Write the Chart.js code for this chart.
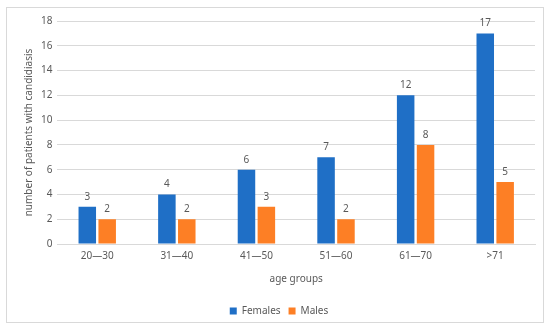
<!DOCTYPE html>
<html lang="en">
<head>
  <meta charset="UTF-8" />
  <title>Candidiasis by age group</title>
  <script src="https://cdn.jsdelivr.net/npm/chart.js"></script>
  <style>
    body { margin: 0; background: #fff; }
    .frame {
      position: absolute; left: 6px; top: 7px;
      width: 536px; height: 314px;
      border: 1px solid #d9d9d9;
    }
    .wrap { position: absolute; left: 0; top: 0; width: 550px; height: 330px; }
  </style>
</head>
<body>
  <div class="frame"></div>
  <div class="wrap"><canvas id="chart" width="550" height="330"></canvas></div>

  <script>
    const ageGroups = ['20\u201430', '31\u201440', '41\u201450', '51\u201460', '61\u201470', '>71'];
    const females = [3, 4, 6, 7, 12, 17];
    const males = [2, 2, 3, 2, 8, 5];
    const yTicks = [0, 2, 4, 6, 8, 10, 12, 14, 16, 18];

    const textGray = '#595959';
    const fontFamily = '"Noto Sans", "Open Sans", sans-serif';

    // draw the value above each bar
    const valueLabels = {
      id: 'valueLabels',
      afterDatasetsDraw(chart) {
        const ctx = chart.ctx;
        ctx.save();
        ctx.fillStyle = textGray;
        ctx.font = '10px ' + fontFamily;
        ctx.textAlign = 'center';
        ctx.textBaseline = 'bottom';
        chart.data.datasets.forEach((ds, i) => {
          chart.getDatasetMeta(i).data.forEach((bar, j) => {
            ctx.fillText(ds.data[j], bar.x, bar.y - 5);
          });
        });
        ctx.restore();
      }
    };

    new Chart(document.getElementById('chart'), {
      type: 'bar',
      data: {
        labels: ageGroups,
        datasets: [
          { label: 'Females', data: females, backgroundColor: '#1f6fc6' },
          { label: 'Males', data: males, backgroundColor: '#fd7f25' }
        ]
      },
      options: {
        responsive: false,
        animation: false,
        layout: { padding: { left: 23, right: 15, top: 21, bottom: 4 } },
        datasets: {
          bar: { categoryPercentage: 0.5, barPercentage: 0.88 }
        },
        plugins: {
          legend: {
            position: 'bottom',
            labels: {
              color: textGray,
              font: { family: fontFamily, size: 10 },
              boxWidth: 7, boxHeight: 7, padding: 8
            }
          },
          tooltip: { enabled: false }
        },
        scales: {
          x: {
            grid: { display: false, drawTicks: false },
            border: { color: '#d9d9d9' },
            ticks: { color: textGray, font: { family: fontFamily, size: 10 }, padding: 6 },
            title: { display: true, text: 'age groups', color: textGray, font: { family: fontFamily, size: 10 }, padding: { top: 5, bottom: 13 } }
          },
          y: {
            min: 0, max: 18,
            afterBuildTicks(axis) { axis.ticks = yTicks.map(v => ({ value: v })); },
            grid: { color: '#d9d9d9', drawTicks: false },
            border: { display: false },
            ticks: { color: textGray, font: { family: fontFamily, size: 10 }, padding: 5 },
            title: { display: true, text: 'number of patients with candidiasis', color: textGray, font: { family: fontFamily, size: 10 }, padding: { top: 0, bottom: 1 } }
          }
        }
      },
      plugins: [valueLabels]
    });
  </script>
</body>
</html>
